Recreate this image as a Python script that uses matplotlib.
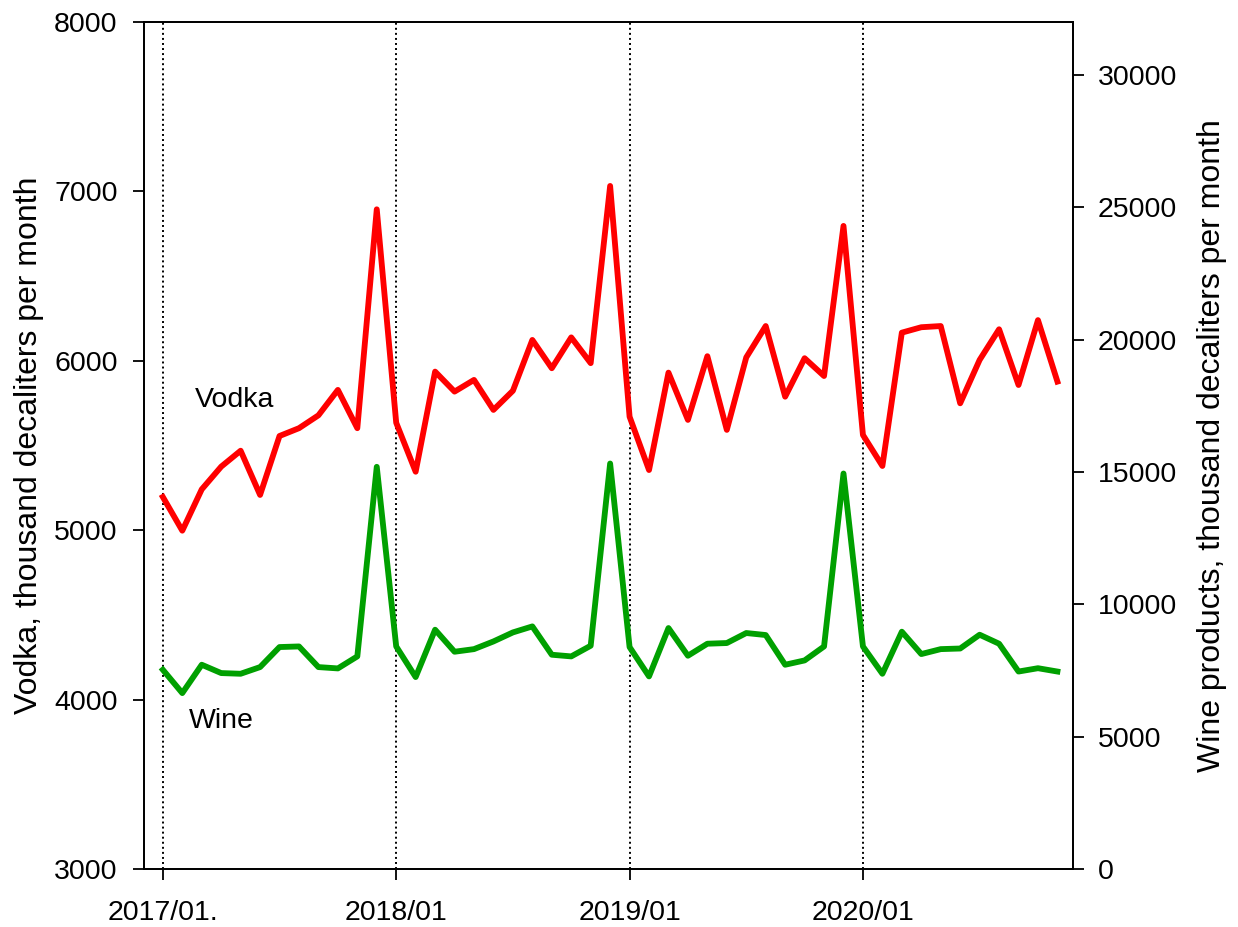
import numpy as np
import matplotlib
matplotlib.use('Agg')
import matplotlib.pyplot as plt

plt.rcParams['font.family'] = ['Liberation Sans', 'DejaVu Sans']

# monthly values, 2017/01 .. 2020/11
vodka = [5196, 4997, 5241, 5375, 5469, 5208, 5556, 5602, 5678, 5828, 5602, 6894,
         5634, 5345, 5936, 5818, 5887, 5710, 5823, 6123, 5956, 6138, 5986, 7032,
         5670, 5355, 5930, 5651, 6027, 5592, 6020, 6205, 5788, 6015, 5910, 6796,
         5562, 5379, 6166, 6198, 6205, 5749, 6005, 6186, 5857, 6240, 5877]
wine = [7526, 6645, 7716, 7401, 7375, 7627, 8384, 8407, 7627, 7577, 8031, 15193,
        8407, 7250, 9039, 8207, 8306, 8596, 8937, 9164, 8094, 8031, 8434, 15318,
        8384, 7275, 9102, 8056, 8510, 8536, 8914, 8838, 7716, 7879, 8407, 14940,
        8407, 7375, 8964, 8119, 8306, 8329, 8850, 8510, 7459, 7585, 7459]
tick_pos = [0, 12, 24, 36]
tick_labels = ['2017/01.', '2018/01', '2019/01', '2020/01']

months = np.arange(len(vodka))

fig = plt.figure(figsize=(12.38, 9.27), dpi=100)
ax = fig.add_axes([0.1163, 0.0626, 0.7504, 0.9137])
ax2 = ax.twinx()

for p in tick_pos:
    ax.axvline(p, color='black', linestyle=(0, (1, 1.6)), linewidth=1.4)

ax.plot(months, vodka, color='#ff0000', linewidth=4.2)
ax2.plot(months, wine, color='#00a000', linewidth=4.2)

ax.set_xlim(-0.97, 46.8)
ax.set_ylim(3000, 8000)
ax2.set_ylim(0, 32000)

ax.set_xticks(tick_pos)
ax.set_xticklabels(tick_labels)
ax.set_yticks(range(3000, 8001, 1000))
ax2.set_yticks(range(0, 30001, 5000))

for a in (ax, ax2):
    a.tick_params(direction='out', length=8, width=1.3, labelsize=20.5, pad=10)
    for s in a.spines.values():
        s.set_linewidth(1.3)
ax.tick_params(axis='x', pad=14)
ax.tick_params(axis='y', pad=11)

ax.set_ylabel('Vodka, thousand decaliters per month', fontsize=23, labelpad=7)
ax2.set_ylabel('Wine products, thousand decaliters per month', fontsize=23, labelpad=14)

ax.text(3.7, 5770, 'Vodka', fontsize=20.5, ha='center', va='center')
ax2.text(3, 5600, 'Wine', fontsize=20.5, ha='center', va='center')

fig.savefig('out.png', dpi=100)
